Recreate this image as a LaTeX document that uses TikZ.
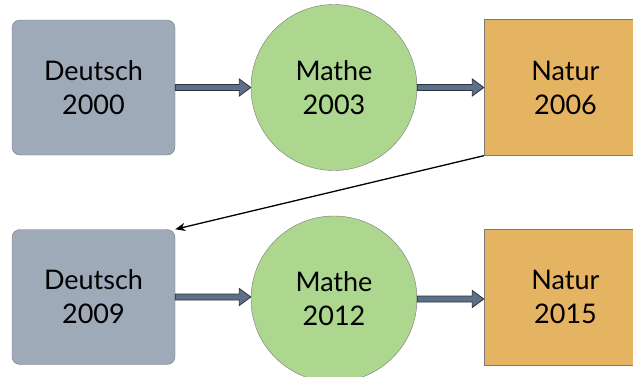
\documentclass[tikz,border=0pt]{standalone}
\usepackage{fontspec}
\setmainfont{Lato}
\usepackage{tikz}
\usetikzlibrary{shapes,arrows,arrows.meta,positioning,calc}
\definecolor{deutschgray}{HTML}{9FAAB9}
\definecolor{mathegreen}{HTML}{ADD68F}
\definecolor{naturorange}{HTML}{E5B463}
\definecolor{edgegray}{HTML}{7A7A7A}
\definecolor{arrowfill}{HTML}{5E7087}
\definecolor{arrowedge}{HTML}{2A3442}
\tikzstyle{deutsch} = [draw=edgegray, fill=deutschgray, rectangle, rounded corners=8pt, minimum width=163pt, minimum height=135pt, align=center]
\tikzstyle{mathe} = [draw=edgegray, fill=mathegreen, circle, minimum size=166pt, inner sep=0, align=center]
\tikzstyle{natur} = [draw=edgegray, fill=naturorange, rectangle, minimum width=163pt, minimum height=136pt, align=center]
\tikzstyle{blockarrow} = [draw=arrowedge, fill=arrowfill, line width=0.8pt,
  to path={let \p1=(\tikztostart), \p2=(\tikztotarget) in
    ({\x1},{\y1+3pt}) -- ({\x2-11.5pt},{\y1+3pt}) -- ({\x2-11.5pt},{\y1+8.5pt}) -- ({\x2},{\y1})
    -- ({\x2-11.5pt},{\y1-8.5pt}) -- ({\x2-11.5pt},{\y1-3pt}) -- ({\x1},{\y1-3pt}) -- cycle}]

\begin{document}
\begin{tikzpicture}[x=1pt, y=1pt, >={Stealth[length=10pt, width=8pt, inset=3pt]}, font=\fontsize{27}{34}\selectfont]
	  \clip (0,0) rectangle (633,376);
	  \fill [white] (0,0) rectangle (633,376);
	  % first row
	  \node [deutsch] (deutschA) at (93.5,288.5) {Deutsch\\2000};
	  \node [mathe, right of=deutschA, node distance=240.5pt] (matheA) {Mathe\\2003};
	  \node [natur, right of=matheA, node distance=231.5pt] (naturA) {Natur\\2006};
	  % second row
	  \node [deutsch, below of=deutschA, node distance=209.5pt] (deutschB) {Deutsch\\2009};
	  \node [mathe, right of=deutschB, node distance=240.5pt, yshift=-2pt] (matheB) {Mathe\\2012};
	  \node [natur, below of=naturA, node distance=209.5pt] (naturB) {Natur\\2015};
	
	  \draw [blockarrow] (deutschA.east) to (matheA.west);
	  \draw [blockarrow] (matheA.east) to (naturA.west);
	  \draw [blockarrow] (deutschB.east) to (matheB.west);
	  \draw [blockarrow] (matheB.east) to (naturB.west);
	  \draw [->, line width=1.3pt] (naturA.south west) -- (deutschB.north east);
	\end{tikzpicture}
\end{document}
